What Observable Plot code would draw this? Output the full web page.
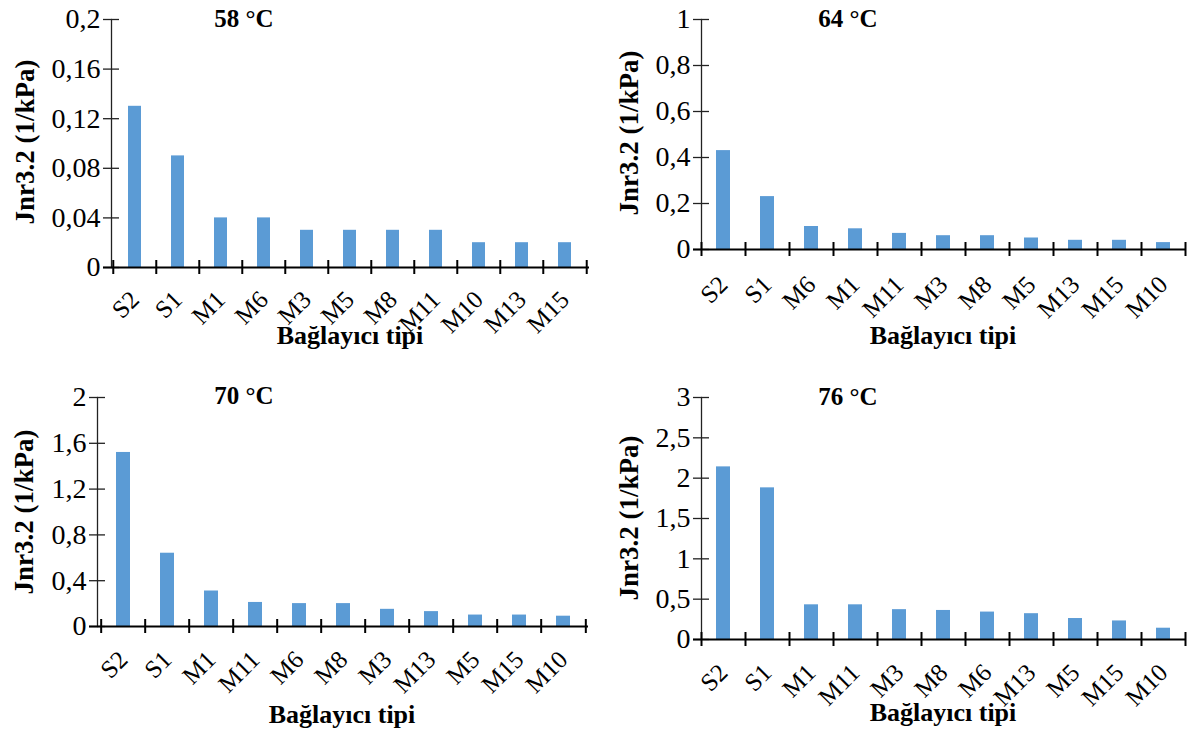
<!DOCTYPE html>
<html><head><meta charset="utf-8">
<script src="https://cdn.jsdelivr.net/npm/d3@7"></script>
<script src="https://cdn.jsdelivr.net/npm/@observablehq/plot@0.6"></script>
<style>
body{margin:0;background:#fff;}
#root{position:relative;width:1193px;height:740px;overflow:hidden;}
#root svg{position:absolute;}
</style></head><body><div id="root"></div>
<script>
// ---- data ----
const cats58 = ["S2","S1","M1","M6","M3","M5","M8","M11","M10","M13","M15"];
const vals58 = [0.13,0.09,0.04,0.04,0.03,0.03,0.03,0.03,0.02,0.02,0.02];
const ticks58 = [0,0.04,0.08,0.12,0.16,0.2];

const cats64 = ["S2","S1","M6","M1","M11","M3","M8","M5","M13","M15","M10"];
const vals64 = [0.43,0.23,0.10,0.09,0.07,0.06,0.06,0.05,0.04,0.04,0.03];
const ticks64 = [0,0.2,0.4,0.6,0.8,1];

const cats70 = ["S2","S1","M1","M11","M6","M8","M3","M13","M5","M15","M10"];
const vals70 = [1.52,0.64,0.31,0.21,0.20,0.20,0.15,0.13,0.10,0.10,0.09];
const ticks70 = [0,0.4,0.8,1.2,1.6,2];

const cats76 = ["S2","S1","M1","M11","M3","M8","M6","M13","M5","M15","M10"];
const vals76 = [2.14,1.88,0.43,0.43,0.37,0.36,0.34,0.32,0.26,0.23,0.14];
const ticks76 = [0,0.5,1,1.5,2,2.5,3];

const titles = ["58 °C","64 °C","70 °C","76 °C"];
const yLabel = "Jnr3.2 (1/kPa)";
const xLabel = "Bağlayıcı tipi";

// ---- layout ----
const panels = [
  {cats:cats58, vals:vals58, ticks:ticks58, title:titles[0], left:0, top:0, width:600, height:360, ml:111, mr:11, mt:19, mb:93,
   tx:244, ty:27, yx:25, yy:142, xx:350, xy:344, pad:28},
  {cats:cats64, vals:vals64, ticks:ticks64, title:titles[1], left:600, top:0, width:593, height:360, ml:101, mr:8, mt:19, mb:111,
   tx:848, ty:27, yx:629, yy:133, xx:943, xy:344, pad:31},
  {cats:cats70, vals:vals70, ticks:ticks70, title:titles[2], left:0, top:370, width:600, height:370, ml:97, mr:12, mt:27, mb:114,
   tx:244, ty:404, yx:24, yy:512, xx:342, xy:723, pad:29},
  {cats:cats76, vals:vals76, ticks:ticks76, title:titles[3], left:600, top:370, width:593, height:370, ml:101, mr:8, mt:27, mb:101,
   tx:848, ty:405, yx:629, yy:518, xx:943, xy:721, pad:29}
];

const root = document.getElementById("root");
const fmt = d => String(d).replace(".", ",");
const FONT = "'Liberation Serif','Times New Roman',serif";

for (const p of panels) {
  const data = p.cats.map((c, i) => ({cat: c, v: p.vals[i]}));
  const step = (p.width - p.ml - p.mr) / p.cats.length;
  const chart = Plot.plot({
    width: p.width, height: p.height,
    marginLeft: p.ml, marginRight: p.mr, marginTop: p.mt, marginBottom: p.mb,
    style: {fontFamily: FONT, background: "transparent", overflow: "visible"},
    x: {domain: p.cats, paddingInner: 0.69, paddingOuter: 0.345, label: null, axis: null},
    y: {domain: [0, p.ticks[p.ticks.length - 1]], label: null, axis: null},
    marks: [
      Plot.barY(data, {x: "cat", y: "v", fill: "#5B9BD5"}),
      Plot.frame({anchor: "left", stroke: "#222", strokeWidth: 1.3}),
      // y tick marks crossing the axis
      Plot.axisY({ticks: p.ticks, tickSize: 16, dx: 8, tickFormat: () => "", stroke: "#222", strokeWidth: 1.3}),
      // y tick labels
      Plot.axisY({ticks: p.ticks, tickSize: 0, tickPadding: 11, tickFormat: fmt, fontSize: 28, fill: "#000"}),
      // x axis line
      Plot.ruleY([0], {stroke: "#000", strokeWidth: 2.2, insetLeft: -8}),
      // x tick marks at category boundaries
      Plot.axisX({tickSize: 14, dy: -7, dx: -step / 2, tickFormat: () => "", stroke: "#000", strokeWidth: 2}),
      Plot.axisX({ticks: [p.cats[p.cats.length - 1]], tickSize: 14, dy: -7, dx: step / 2, tickFormat: () => "", stroke: "#000", strokeWidth: 2}),
      // x tick labels
      Plot.axisX({tickSize: 0, tickPadding: p.pad, tickRotate: -45, fontSize: 25, fill: "#000"})
    ]
  });
  chart.style.left = p.left + "px";
  chart.style.top = p.top + "px";
  root.appendChild(chart);
}

// overlay for titles and axis titles
const svg = d3.select(root).append("svg")
  .attr("width", 1193).attr("height", 740)
  .style("left", "0px").style("top", "0px")
  .style("font-family", FONT).style("font-weight", "bold");
for (const p of panels) {
  svg.append("text").attr("x", p.tx).attr("y", p.ty).attr("text-anchor", "middle")
    .attr("font-size", 25).text(p.title);
  svg.append("text").attr("transform", `translate(${p.yx},${p.yy}) rotate(-90)`)
    .attr("text-anchor", "middle").attr("dominant-baseline", "central")
    .attr("font-size", 27).text(yLabel);
  svg.append("text").attr("x", p.xx).attr("y", p.xy).attr("text-anchor", "middle")
    .attr("font-size", 26).text(xLabel);
}
</script></body></html>
